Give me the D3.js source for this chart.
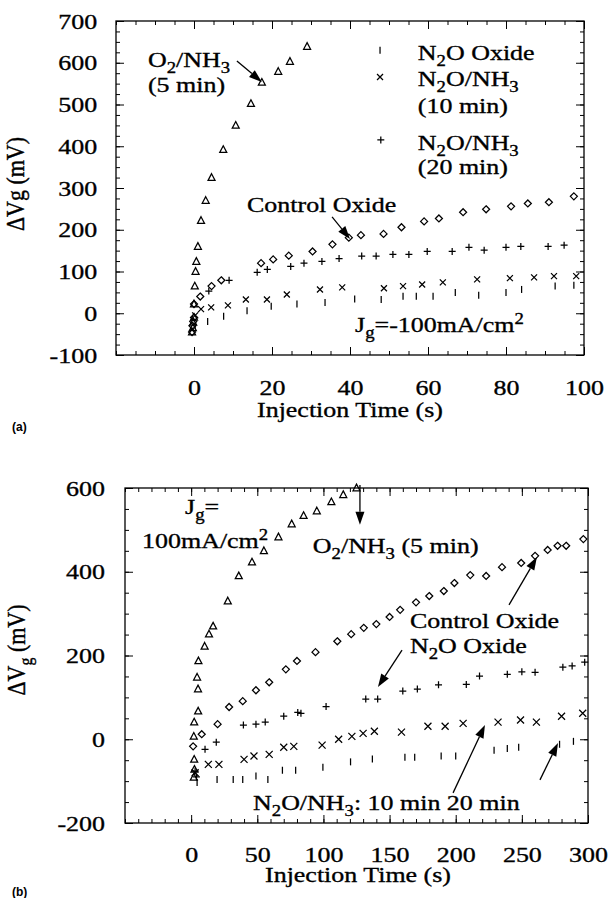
<!DOCTYPE html>
<html><head><meta charset="utf-8">
<script src="https://cdn.jsdelivr.net/npm/d3@7"></script>
<style>body{margin:0;background:#fff}</style>
</head><body><svg id="c" width="608" height="898"></svg>
<script>
// ---------------- DATA ----------------
// Panel (a): Jg = -100 mA/cm2, time 0..100 s
const aTickX = [0, 20, 40, 60, 80, 100];
const aTickY = [-100, 0, 100, 200, 300, 400, 500, 600, 700];
const aO2NH3 = [[-0.5,-45],[-0.3,-35],[-0.2,-22],[0,-10],[0,22],[0.2,65],[0.4,100],[0.6,124],[1,160],[1.8,222],[3,270],[4.5,325],[7.5,392],[10.7,450],[14.6,502],[17.4,553],[21.6,579],[24.6,603],[29,639]];
const aControl = [[-0.5,-45],[-0.4,-30],[-0.2,-20],[0,-10],[0,22],[1.6,40],[4.5,65],[7,79],[17.2,120],[20.3,129],[24.3,138],[30.4,148],[35.5,165],[39.7,181],[42.8,187],[48.6,190],[53.2,206],[59,220],[62.8,227],[69,242],[74.9,249],[81.3,256],[85.6,263],[91,266],[97.4,280]];
const aN2ONH3_20 = [[3.8,53],[9,79],[16.2,98],[18.8,105],[24.8,112],[28.2,120],[32.8,124],[37.2,131],[43,137],[46.7,137],[51,141],[55.1,141],[59.8,148],[66.2,148],[70.5,158],[74.4,151],[80,158],[83.8,160],[90.8,160],[94.9,163]];
const aN2ONH3_10 = [[0.3,-5],[1.8,10],[4.4,14],[8.7,19],[13.3,33],[18.7,33],[23.8,45],[32.3,57],[38,62],[48.7,60],[53.6,65],[58.5,69],[63.8,74],[72.6,81],[81,84],[87.2,86],[92.3,89],[98,89]];
const aN2O = [[0.3,-30],[3.5,-20],[7.6,-7],[13.6,6],[19.8,17],[26.4,22],[33.6,26],[41.2,34],[48,33],[53.6,41],[57,41],[61.3,41],[67,50],[73,43],[80,50],[84,57],[92.6,65],[97.4,67]];

// Panel (b): Jg = 100 mA/cm2, time 0..300 s
const bTickX = [0, 50, 100, 150, 200, 250, 300];
const bTickY = [-200, 0, 200, 400, 600];
const bO2NH3 = [[2,-91],[2.5,-72],[2.3,-48],[2,7],[2.3,41],[5.3,67],[5.2,120],[4.5,148],[5.5,187],[10.2,222],[13.5,251],[16.6,270],[27.7,330],[36,390],[46,423],[55,450],[66,483],[76,514],[85,534],[95,545],[106,567],[115,584],[125,600]];
const bControl = [[1.5,-17],[8,12],[20,36],[28.7,77],[39,91],[49,117],[59,136],[71.6,167],[80,187],[94,208],[110.5,234],[121,251],[130.5,266],[140,275],[150,292],[158,309],[170,327],[180,342],[191,354],[199,373],[211,392],[223,390],[235,411],[249.5,421],[260,438],[269.5,452],[277,462],[283.5,462],[296.5,478]];
const bN2ONH3_20 = [[3,-76],[4,-90],[10.5,-24],[19,-7],[39.5,34],[49,36],[56,41],[70,55],[80.6,64],[83,62],[102,78],[132,96],[141,96],[160,115],[171,120],[187,130],[208,131],[218,151],[239,155],[250,161],[260,160],[281,172],[288,175],[297.5,184]];
const bN2ONH3_10 = [[3,-80],[13,-60],[21,-60],[40,-48],[47.5,-40],[59,-36],[70,-19],[77.6,-17],[99,-14],[111.5,0],[121.5,7],[130,14],[138.5,19],[159,17],[179,31],[192,31],[205.6,38],[232,41],[249,46],[261,41],[280,55],[296,62]];
const bN2O = [[4.5,-103],[19.6,-96],[31.8,-96],[39,-96],[49,-88],[58,-96],[69,-74],[79,-74],[99.6,-67],[120.5,-54],[137,-47],[161.6,-43],[169,-43],[189,-40],[200,-40],[229,-26],[239,-22],[247.6,-19],[278.5,-12],[289,-5]];

// ---------------- SETUP ----------------
const svg = d3.select('#c');
svg.append('rect').attr('width',608).attr('height',898).attr('fill','#fff');
const FS = 22, SX = 1.18;
const serif = "'Liberation Serif','Times New Roman',serif";

const xa = d3.scaleLinear().domain([-20,100]).range([116,584]);
const ya = d3.scaleLinear().domain([-100,700]).range([355,21]);
const xb = d3.scaleLinear().domain([-50,300]).range([125,588]);
const yb = d3.scaleLinear().domain([-200,600]).range([823,488]);

function addText(g, x, y, parts, opt = {}) {
  const fs = opt.fs || FS, sx = opt.sx || SX;
  const tf = `translate(${x},${y})` + (opt.rotate ? ` rotate(${opt.rotate}) scale(1,${sx})` : ` scale(${sx},1)`);
  const t = g.append('text').attr('transform', tf).attr('font-family', opt.family || serif)
    .attr('font-size', fs).attr('font-weight', opt.weight || 'normal')
    .attr('text-anchor', opt.anchor || 'start').attr('fill', '#000')
    .attr('stroke', '#000').attr('stroke-width', opt.family ? 0 : 0.35);
  let shift = 0;
  parts.forEach(p => {
    const [s, kind] = Array.isArray(p) ? p : [p];
    const target = kind === 'sub' ? 0.28 * fs : kind === 'sup' ? -0.38 * fs : 0;
    t.append('tspan').attr('dy', target - shift).attr('font-size', kind ? fs * 0.72 : fs).text(s);
    shift = target;
  });
  return t;
}

function styleText(sel) {
  sel.selectAll('text').attr('font-size', FS).attr('font-family', serif).attr('fill', '#000')
    .attr('stroke', '#000').attr('stroke-width', 0.35)
    .attr('transform', `scale(${SX},1)`);
}

const plainFmt = d => String(d);

function axes(g, x, y, xMaj, xMin, yMaj, yMin, padX, padY) {
  const [xl, xr] = x.range(), [ybot, ytop] = y.range();
  const clean = s => { s.select('.domain').remove(); s.selectAll('line').attr('stroke', '#000').attr('stroke-width', 1); };
  // bottom
  g.append('g').attr('transform', `translate(0,${ybot})`)
    .call(d3.axisBottom(x).tickValues(xMin).tickSize(-4).tickFormat('')).call(clean);
  const bx = g.append('g').attr('transform', `translate(0,${ybot})`)
    .call(d3.axisBottom(x).tickValues(xMaj).tickSize(-8).tickPadding(padX).tickFormat(plainFmt)).call(clean);
  styleText(bx);
  // top
  g.append('g').attr('transform', `translate(0,${ytop})`)
    .call(d3.axisTop(x).tickValues(xMin).tickSize(-4).tickFormat('')).call(clean);
  g.append('g').attr('transform', `translate(0,${ytop})`)
    .call(d3.axisTop(x).tickValues(xMaj).tickSize(-8).tickFormat('')).call(clean);
  // left
  g.append('g').attr('transform', `translate(${xl},0)`)
    .call(d3.axisLeft(y).tickValues(yMin).tickSize(-4).tickFormat('')).call(clean);
  const ly = g.append('g').attr('transform', `translate(${xl},0)`)
    .call(d3.axisLeft(y).tickValues(yMaj).tickSize(-8).tickPadding(padY).tickFormat(plainFmt)).call(clean);
  styleText(ly);
  // right
  g.append('g').attr('transform', `translate(${xr},0)`)
    .call(d3.axisRight(y).tickValues(yMin).tickSize(-4).tickFormat('')).call(clean);
  g.append('g').attr('transform', `translate(${xr},0)`)
    .call(d3.axisRight(y).tickValues(yMaj).tickSize(-8).tickFormat('')).call(clean);
  // frame
  g.append('rect').attr('x', xl).attr('y', ytop).attr('width', xr - xl).attr('height', ybot - ytop)
    .attr('fill', 'none').attr('stroke', '#000').attr('stroke-width', 1.3);
}

const sym = {
  tri: s => `M0,${-s*0.55}L${s*0.5},${s*0.4}L${-s*0.5},${s*0.4}Z`,
  dia: s => `M0,${-s/2}L${s/2},0L0,${s/2}L${-s/2},0Z`,
  cross: s => `M${-s/2},${-s/2}L${s/2},${s/2}M${s/2},${-s/2}L${-s/2},${s/2}`,
  plus: s => `M${-s/2},0L${s/2},0M0,${-s/2}L0,${s/2}`,
  bar: s => `M0,${-s/2}L0,${s/2}`
};

function series(g, x, y, data, type, size) {
  g.append('g').selectAll('path').data(data).join('path')
    .attr('transform', d => `translate(${x(d[0])},${y(d[1])})`)
    .attr('d', sym[type](size)).attr('fill', 'none').attr('stroke', '#000').attr('stroke-width', 1.25);
}

function arrow(g, x1, y1, x2, y2) {
  const dx = x2 - x1, dy = y2 - y1, L = Math.hypot(dx, dy), ux = dx / L, uy = dy / L;
  const hl = 13, hw = 4.5;
  const bx = x2 - ux * hl, by = y2 - uy * hl;
  g.append('line').attr('x1', x1).attr('y1', y1).attr('x2', bx).attr('y2', by)
    .attr('stroke', '#000').attr('stroke-width', 1.3);
  g.append('path').attr('d', `M${x2},${y2}L${bx - uy * hw},${by + ux * hw}L${bx + uy * hw},${by - ux * hw}Z`).attr('fill', '#000');
}

// ---------------- PANEL (a) ----------------
const ga = svg.append('g');
axes(ga, xa, ya, aTickX, d3.range(-20, 101, 5), aTickY, d3.range(-100, 701, 25), 24, 16);
series(ga, xa, ya, aO2NH3, 'tri', 7);
series(ga, xa, ya, aControl, 'dia', 7);
series(ga, xa, ya, aN2ONH3_20, 'plus', 7);
series(ga, xa, ya, aN2ONH3_10, 'cross', 6);
series(ga, xa, ya, aN2O, 'bar', 7);

addText(ga, 24, 184, ['\u0394Vg (mV)'], { anchor: 'middle', rotate: -90 }).attr('dy', '0.35em');
addText(ga, 350, 417, ['Injection Time (s)'], { anchor: 'middle' });
addText(ga, 12, 431, ['(a)'], { fs: 12, sx: 1, weight: 'bold', family: "'Liberation Sans',Arial,sans-serif" });

addText(ga, xa(-11.8), ya(590), ['O', ['2', 'sub'], '/NH', ['3', 'sub']]);
addText(ga, xa(-11.8), ya(530), ['(5 min)']);
arrow(ga, xa(11), ya(604), xa(17.4), ya(554));

// legend
series(ga, xa, ya, [[47.7, 630]], 'bar', 7);
series(ga, xa, ya, [[47.7, 566]], 'cross', 6);
series(ga, xa, ya, [[47.9, 415]], 'plus', 7);
addText(ga, xa(57.4), ya(607), ['N', ['2', 'sub'], 'O Oxide']);
addText(ga, xa(57.4), ya(544), ['N', ['2', 'sub'], 'O/NH', ['3', 'sub']]);
addText(ga, xa(57.4), ya(480), ['(10 min)']);
addText(ga, xa(57.4), ya(391), ['N', ['2', 'sub'], 'O/NH', ['3', 'sub']]);
addText(ga, xa(57.4), ya(334), ['(20 min)']);

addText(ga, xa(13.6), ya(243), ['Control Oxide']);
arrow(ga, xa(35.4), ya(231), xa(40), ya(178));
addText(ga, xa(41.3), ya(-45), ['J', ['g', 'sub'], '=-100mA/cm', ['2', 'sup']]);

// ---------------- PANEL (b) ----------------
const gb = svg.append('g');
axes(gb, xb, yb, bTickX, d3.range(-50, 301, 10), bTickY, d3.range(-200, 601, 50), 23, 17);
series(gb, xb, yb, bO2NH3, 'tri', 7);
series(gb, xb, yb, bControl, 'dia', 7);
series(gb, xb, yb, bN2ONH3_20, 'plus', 7);
series(gb, xb, yb, bN2ONH3_10, 'cross', 7);
series(gb, xb, yb, bN2O, 'bar', 7);

addText(gb, 25, 650, ['\u0394V', ['g', 'sub'], ' (mV)'], { anchor: 'middle', rotate: -90 }).attr('dy', '0.35em');
addText(gb, 358, 882, ['Injection Time (s)'], { anchor: 'middle' });
addText(gb, 12, 896, ['(b)'], { fs: 12, sx: 1, weight: 'bold', family: "'Liberation Sans',Arial,sans-serif" });

addText(gb, xb(-4.6), yb(538), ['J', ['g', 'sub'], '=']);
addText(gb, xb(-37.1), yb(457), ['100mA/cm', ['2', 'sup']]);
addText(gb, xb(92), yb(445), ['O', ['2', 'sub'], '/NH', ['3', 'sub'], ' (5 min)']);
arrow(gb, xb(127.6), yb(607), xb(127.6), yb(512));
addText(gb, xb(165.4), yb(266), ['Control Oxide']);
addText(gb, xb(165.4), yb(206), ['N', ['2', 'sub'], 'O Oxide']);
arrow(gb, xb(240.3), yb(321), xb(261.4), yb(435));
arrow(gb, xb(159.4), yb(213), xb(141.2), yb(125));
addText(gb, xb(46.8), yb(-169), ['N', ['2', 'sub'], 'O/NH', ['3', 'sub'], ': 10 min 20 min']);
arrow(gb, xb(198), yb(-128), xb(222.1), yb(34));
arrow(gb, xb(263.7), yb(-97), xb(277.3), yb(-9));
</script>
</body></html>
